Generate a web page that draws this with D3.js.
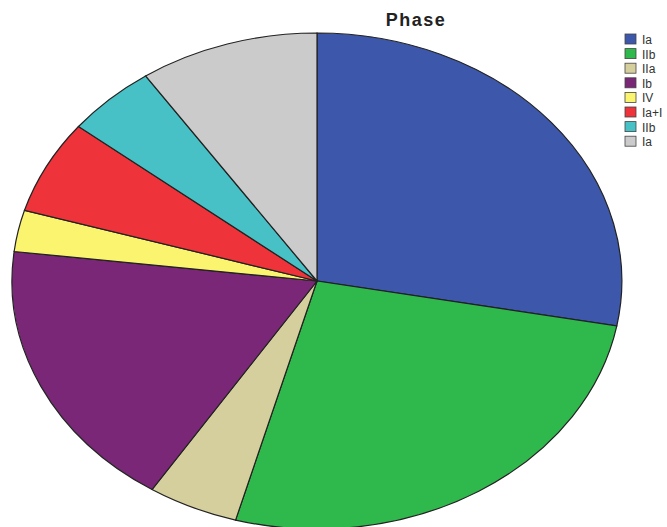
<!DOCTYPE html>
<html><head><meta charset="utf-8">
<script src="https://cdn.jsdelivr.net/npm/d3@7"></script>
<style>body{margin:0;background:#fff}svg{display:block}</style>
</head><body>
<svg id="c" width="667" height="527"></svg>
<script>
const categories = ["Ia","IIb","IIa","Ib","IV","Ia+I","IIb","Ia"];
const values = [27.9, 26.4, 4.8, 17.8, 2.7, 6.1, 4.8, 9.5];
const colors = ["#3d58ab","#2fb84b","#d5cf9d","#7a2778","#faf46e","#ee333a","#47c1c6","#cbcbcb"];
const title = "Phase";

const svg = d3.select("#c");
const cx = 317, cy = 281, rx = 305, ry = 248;

const pie = d3.pie().value(d => d).sort(null);
const arc = d3.arc().innerRadius(0).outerRadius(1);

const g = svg.append("g").attr("transform", `translate(${cx},${cy}) scale(${rx},${ry})`);
g.selectAll("path").data(pie(values)).join("path")
  .attr("d", arc)
  .attr("fill", (d,i) => colors[i])
  .attr("stroke", "#222")
  .attr("stroke-width", 1.2)
  .attr("vector-effect", "non-scaling-stroke");

svg.append("text").attr("x", 416).attr("y", 26).attr("text-anchor","middle")
  .attr("font-family","Liberation Sans, Arial, sans-serif").attr("font-weight","bold")
  .attr("font-size", 18).attr("letter-spacing", 1.5).attr("fill","#222").text(title);

const leg = svg.append("g").attr("transform","translate(625,34)");
const items = leg.selectAll("g").data(categories).join("g")
  .attr("transform",(d,i)=>`translate(0,${i*14.6})`);
items.append("rect").attr("width",11).attr("height",10)
  .attr("fill",(d,i)=>colors[i]).attr("stroke","#444").attr("stroke-width",0.8);
items.append("text").attr("x",17).attr("y",10)
  .attr("font-family","Liberation Sans, Arial, sans-serif").attr("font-size",12)
  .attr("fill","#333").text(d=>d);
</script>
</body></html>
